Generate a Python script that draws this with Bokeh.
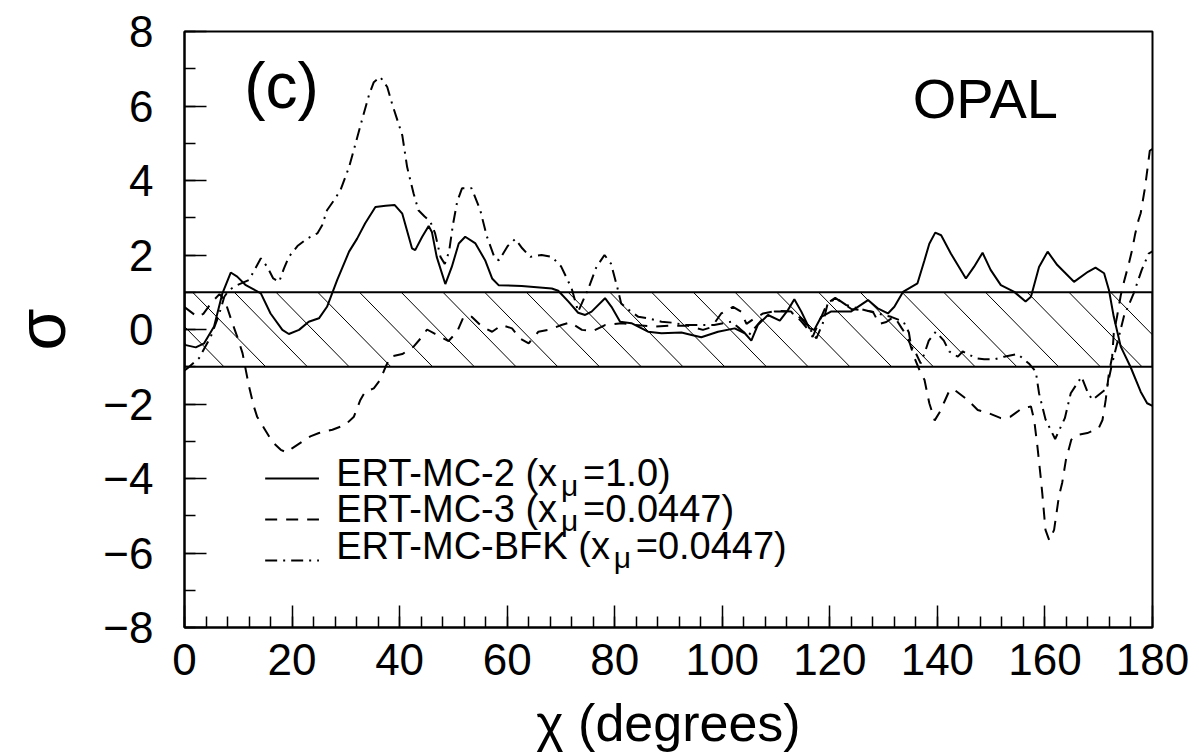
from bokeh.plotting import figure
from bokeh.models import FixedTicker, Label
from bokeh.embed import file_html
from bokeh.resources import INLINE

# ---------------- data ----------------
chi_mc2 = [0, 0.25, 2.1, 3.65, 5.5, 7.05, 8.6, 9.8, 11.4, 14.2, 16.0, 18.2, 19.4, 21.3, 23.1, 25.0,
           26.5, 28.4, 30.6, 32.1, 33.6, 35.5, 37.4, 39.1, 40.5, 42.3, 42.9, 44.2, 45.4, 46.0, 46.9,
           48.5, 49.7, 51.0, 52.2, 54.1, 55.9, 57.2, 58.4, 62.7, 68.3, 69.5, 71.4, 73.2, 74.5, 75.7,
           78.2, 79.4, 81.0, 83.1, 86.2, 88.7, 92.4, 94.3, 96.1, 99.2, 102.3, 104.2, 105.4, 106.6,
           108.5, 110.7, 112.2, 113.4, 114.7, 116.2, 117.1, 118.4, 120.2, 123.9, 127.1, 128.9, 130.8,
           132.0, 133.6, 136.3, 137.6, 138.5, 139.6, 140.7, 142.5, 145.3, 146.8, 148.4, 149.9, 151.8,
           154.3, 156.4, 157.4, 158.9, 160.5, 162.3, 165.4, 168.0, 169.4, 171.0, 171.9, 172.8, 174.1,
           175.9, 177.8, 179.0, 180]
sig_mc2 = [-0.38, -0.42, -0.48, -0.37, 0.08, 0.97, 1.53, 1.42, 1.19, 0.97, 0.43, -0.01, -0.12, -0.01,
           0.21, 0.30, 0.61, 1.33, 2.09, 2.44, 2.85, 3.29, 3.32, 3.34, 3.11, 2.18, 2.13, 2.49, 2.78,
           2.62, 1.95, 1.22, 1.68, 2.31, 2.49, 2.31, 1.86, 1.37, 1.19, 1.17, 1.10, 1.04, 0.75, 0.45,
           0.39, 0.48, 0.84, 0.61, 0.21, 0.17, -0.06, -0.10, -0.08, -0.15, -0.21, -0.06, 0.03, -0.10,
           -0.30, 0.12, 0.39, 0.24, 0.52, 0.81, 0.48, 0.03, -0.01, 0.34, 0.48, 0.48, 0.79, 0.57, 0.43,
           0.61, 1.01, 1.24, 1.86, 2.30, 2.60, 2.53, 2.04, 1.37, 1.68, 2.06, 1.60, 1.19, 1.01, 0.75,
           0.88, 1.68, 2.09, 1.73, 1.28, 1.55, 1.66, 1.51, 1.06, 0.34, -0.46, -1.00, -1.67, -1.98, -2.05]

chi_mc3 = [0, 2.4, 3.5, 5.0, 6.5, 7.5, 8.9, 9.8, 10.8, 11.4, 12.0, 12.9, 13.5, 14.8, 16.3, 17.9, 19.0,
           20.0, 21.9, 23.4, 25.0, 27.5, 29.9, 31.5, 32.7, 33.6, 35.2, 36.4, 37.4, 38.3, 40.5, 42.6,
           43.9, 45.1, 46.6, 49.1, 50.7, 51.9, 53.4, 55.3, 57.2, 59.0, 60.9, 62.4, 64.0, 65.8, 67.7,
           70.1, 71.7, 73.9, 76.0, 78.2, 81.3, 83.7, 87.4, 90.2, 93.7, 96.4, 98.0, 99.8, 102.0, 103.5,
           104.5, 106.0, 107.6, 110.0, 112.8, 114.5, 116.0, 116.8, 118.0, 119.5, 121.0, 122.5, 124.0,
           126.0, 128.0, 129.2, 130.5, 132.0, 133.3, 134.2, 134.9, 135.6, 136.9, 137.6, 138.5, 139.5,
           140.5, 141.3, 142.2, 143.0, 144.0, 145.6, 147.5, 149.6, 151.8, 153.6, 155.8, 157.4, 158.0,
           158.6, 159.2, 159.5, 160.1, 160.8, 161.7, 162.6, 163.2, 163.9, 164.9, 166.0, 167.9, 170.0,
           170.7, 171.3, 171.9, 172.5, 172.8, 173.4, 174.1, 174.7, 175.6, 176.2, 176.8, 177.4, 177.8,
           178.6, 179.5, 180]
sig_mc3 = [0.60, 0.34, 0.42, 0.72, 0.95, 0.78, 0.17, -0.19, -0.64, -1.09, -1.53, -2.07, -2.34, -2.65,
           -3.01, -3.23, -3.30, -3.19, -3.01, -2.87, -2.78, -2.69, -2.56, -2.34, -1.89, -1.67, -1.58,
           -1.35, -1.00, -0.73, -0.66, -0.46, -0.24, 0.00, -0.12, -0.31, -0.06, 0.34, 0.34, 0.08, -0.06,
           0.12, 0.03, -0.24, -0.37, -0.06, -0.01, 0.12, 0.19, -0.01, -0.04, 0.12, 0.17, 0.12, 0.08,
           0.10, 0.10, -0.01, 0.06, 0.43, 0.61, 0.48, 0.15, 0.30, 0.43, 0.50, 0.48, 0.25, -0.01, -0.20,
           0.20, 0.70, 0.85, 0.70, 0.55, 0.52, 0.48, 0.15, 0.20, 0.35, 0.05, -0.15, -0.38, -0.71, -1.17,
           -1.35, -1.98, -2.44, -2.20, -1.94, -1.65, -1.60, -1.71, -1.89, -2.16, -2.25, -2.38, -2.34,
           -2.11, -2.07, -2.43, -3.14, -3.95, -4.39, -5.38, -5.66, -5.38, -4.48, -4.12, -3.50, -2.96,
           -2.83, -2.78, -2.65, -2.43, -1.89, -1.17, -0.73, -0.10, 0.34, 0.92, 1.28, 1.77, 2.13, 2.58,
           2.94, 3.12, 3.80, 4.80, 4.85]

chi_bfk = [0, 0.56, 2.7, 4.9, 6.4, 7.4, 8.3, 9.8, 12.0, 14.2, 15.4, 16.5, 17.6, 18.5, 19.4, 21.0, 22.8,
           24.7, 25.6, 26.5, 27.8, 29.0, 30.6, 31.8, 33.0, 34.3, 35.2, 36.4, 37.7, 38.6, 39.7, 40.5,
           41.4, 42.6, 43.5, 44.6, 45.7, 46.6, 47.6, 48.4, 49.2, 49.9, 50.7, 51.6, 53.4, 55.0, 56.2,
           57.7, 58.5, 60.1, 61.5, 62.8, 64.3, 66.4, 68.3, 70.0, 71.1, 72.0, 73.2, 75.1, 76.6, 78.1,
           79.3, 80.5, 81.2, 82.2, 84.4, 86.2, 88.7, 90.9, 93.0, 95.4, 98.5, 101.7, 103.2, 104.8, 107.3,
           109.7, 112.5, 114.7, 116.2, 117.5, 118.7, 119.6, 121.2, 123.0, 125.2, 128.9, 131.4, 133.7,
           134.7, 135.1, 136.0, 136.9, 137.6, 138.4, 139.7, 141.2, 142.2, 143.8, 144.7, 147.2, 148.7,
           150.6, 152.4, 154.9, 157.0, 158.3, 158.9, 160.1, 161.9, 163.7, 164.8, 166.8, 167.9, 168.8,
           171.5, 172.5, 174.7, 176.5, 178.0, 179.3, 180]
sig_bfk = [-1.10, -1.04, -0.77, -0.19, 0.39, 0.88, 1.06, 1.19, 1.33, 1.91, 1.68, 1.37, 1.28, 1.64, 1.95,
           2.24, 2.44, 2.58, 2.80, 3.20, 3.47, 3.74, 4.36, 4.99, 5.62, 6.29, 6.64, 6.78, 6.51, 6.06,
           5.57, 5.21, 4.36, 3.65, 3.20, 3.04, 2.90, 2.58, 1.95, 1.76, 2.09, 2.80, 3.43, 3.79, 3.79,
           3.20, 2.51, 1.91, 1.86, 2.24, 2.43, 2.18, 1.95, 2.00, 1.95, 1.70, 1.37, 1.10, 0.48, 1.10,
           1.68, 2.00, 1.77, 1.12, 0.70, 0.57, 0.34, 0.30, 0.21, 0.18, 0.12, 0.12, 0.12, 0.21, 0.03,
           -0.17, 0.25, 0.48, 0.48, 0.30, 0.03, -0.24, 0.17, 0.70, 0.84, 0.66, 0.57, 0.43, 0.34, 0.21,
           -0.08, -0.44, -0.64, -0.91, -0.64, -0.30, -0.06, -0.30, -0.59, -0.73, -0.59, -0.77, -0.80,
           -0.80, -0.73, -0.66, -0.91, -1.13, -1.71, -2.41, -2.94, -2.38, -1.71, -1.27, -1.67, -1.89,
           -1.58, -0.91, 0.36, 0.97, 1.60, 2.04, 2.10]

band_low = -1.0
band_high = 1.0
band_left = 0.0
band_right = 180.0

series_names = ["ERT-MC-2", "ERT-MC-3", "ERT-MC-BFK"]
series_xmu = ["1.0", "0.0447", "0.0447"]

x_major = list(range(0, 181, 20))
x_minor = list(range(0, 181, 4))
y_major = list(range(-8, 9, 2))
y_minor = list(range(-8, 9, 1))

# ---------------- figure ----------------
FONT = "Liberation Sans"
p = figure(width=1199, height=754, x_range=(0, 180), y_range=(-8, 8),
           output_backend="svg", toolbar_location=None,
           min_border_left=182, min_border_right=47, min_border_top=31, min_border_bottom=126)
p.grid.visible = False
p.background_fill_color = "white"
p.border_fill_color = "white"
p.outline_line_color = "black"
p.outline_line_width = 2

for ax in (p.xaxis[0], p.yaxis[0]):
    ax.axis_line_width = 2
    ax.axis_line_color = "black"
    ax.major_tick_in = 22
    ax.major_tick_out = 0
    ax.minor_tick_in = 11
    ax.minor_tick_out = 0
    ax.major_tick_line_width = 1.5
    ax.minor_tick_line_width = 1.5
    ax.major_tick_line_color = "black"
    ax.minor_tick_line_color = "black"
    ax.major_label_text_font = FONT
    ax.major_label_text_font_size = "44px"
    ax.major_label_text_color = "black"
    ax.axis_label_text_font = FONT
    ax.axis_label_text_font_style = "normal"
    ax.axis_label_text_color = "black"

p.xaxis.ticker = FixedTicker(ticks=x_major, minor_ticks=x_minor)
p.yaxis.ticker = FixedTicker(ticks=y_major, minor_ticks=y_minor)
p.yaxis.major_label_overrides = {v: (("\u2212" + str(-v)) if v < 0 else str(v)) for v in y_major}
p.xaxis.major_label_standoff = 16
p.yaxis.major_label_standoff = 31
p.xaxis.axis_label = "\u03c7 (degrees)"
p.xaxis.axis_label_text_font_size = "52px"
p.xaxis.axis_label_standoff = 16
p.yaxis.axis_label = "\u03c3"
p.yaxis.axis_label_text_font_size = "68px"
p.yaxis.axis_label_standoff = 21

# hatched +-1 sigma band: outline box plus 45-degree "\" hatch lines
HATCH_STEP = 7.76      # horizontal spacing of hatch lines (data units)
HATCH_RUN = 13.6       # horizontal run of one hatch line across the band
HATCH_PHASE = 1.5
hx0, hy0, hx1, hy1 = [], [], [], []
t = HATCH_PHASE - 2 * HATCH_STEP
while t < band_right:
    xa, ya = t, band_high
    xb, yb = t + HATCH_RUN, band_low
    slope = (band_low - band_high) / HATCH_RUN
    if xa < band_left:
        ya = band_high + slope * (band_left - t)
        xa = band_left
    if xb > band_right:
        yb = band_high + slope * (band_right - t)
        xb = band_right
    if xb > xa:
        hx0.append(xa); hy0.append(ya); hx1.append(xb); hy1.append(yb)
    t += HATCH_STEP
p.segment(hx0, hy0, hx1, hy1, line_color="black", line_width=1)
p.quad(left=[band_left], right=[band_right], bottom=[band_low], top=[band_high],
       fill_color=None, line_color="black", line_width=2)

DASH = "12 9"
DASHDOT = "12 6 2 6"
p.line(chi_mc2, sig_mc2, line_color="black", line_width=2)
p.line(chi_mc3, sig_mc3, line_color="black", line_width=2, line_dash=DASH)
p.line(chi_bfk, sig_bfk, line_color="black", line_width=2, line_dash=DASHDOT)

# ---------------- legend (hand-made, for the subscript) ----------------
styles = ["solid", DASH, DASHDOT]
sample_y = [-4.0, -5.1, -6.2]
text_y = [-3.86, -4.82, -5.81]
mu_x = [70.0, 70.0, 79.8]
rest_x = [74.1, 74.1, 83.9]
for i in range(3):
    p.line([15.0, 25.0], [sample_y[i], sample_y[i]], line_color="black", line_width=2,
           line_dash=styles[i])
    p.add_layout(Label(x=28.2, y=text_y[i], text=series_names[i] + " (x",
                       text_font=FONT, text_font_size="38px", text_baseline="alphabetic",
                       text_color="black"))
    p.add_layout(Label(x=mu_x[i], y=text_y[i] - 0.32, text="\u03bc",
                       text_font=FONT, text_font_size="30px", text_baseline="alphabetic",
                       text_color="black"))
    p.add_layout(Label(x=rest_x[i], y=text_y[i], text="=" + series_xmu[i] + ")",
                       text_font=FONT, text_font_size="38px", text_baseline="alphabetic",
                       text_color="black"))

p.add_layout(Label(x=11.1, y=6.55, text="(c)", text_font=FONT, text_font_size="64px",
                   text_baseline="alphabetic", text_color="black"))
p.add_layout(Label(x=135.4, y=6.2, text="OPAL", text_font=FONT, text_font_size="56px",
                   text_baseline="alphabetic", text_color="black"))

open("out.html", "w").write(file_html(p, INLINE))
